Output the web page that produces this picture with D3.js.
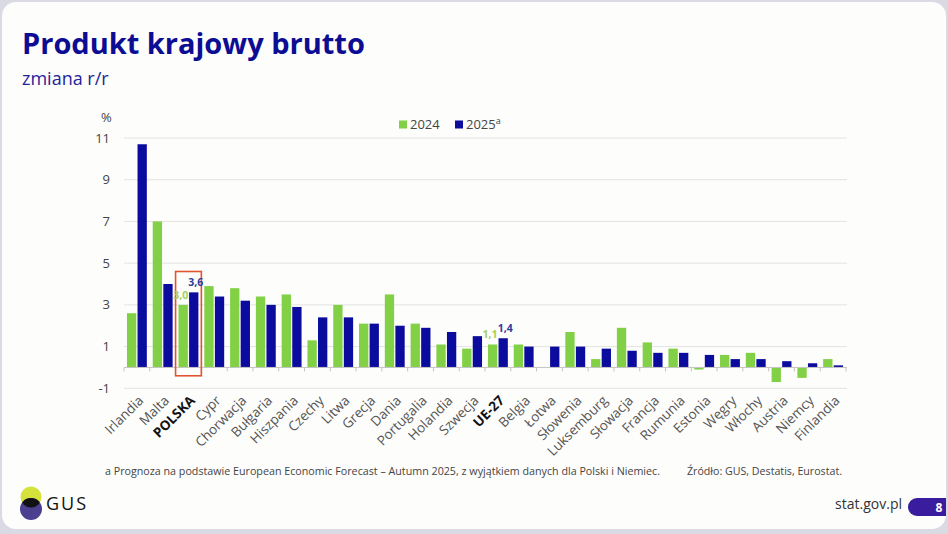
<!DOCTYPE html>
<html>
<head>
<meta charset="utf-8">
<script src="https://cdn.jsdelivr.net/npm/d3@7"></script>
<style>
  html, body { margin: 0; padding: 0; background: #d9dae4; }
  svg { display: block; }
  text { font-family: "Open Sans", "Noto Sans", sans-serif; }
</style>
</head>
<body>
<svg id="canvas" width="948" height="534"></svg>
<script>
"use strict";

const countries = ["Irlandia", "Malta", "POLSKA", "Cypr", "Chorwacja", "Bułgaria", "Hiszpania", "Czechy",
    "Litwa", "Grecja", "Dania", "Portugalia", "Holandia", "Szwecja", "UE-27", "Belgia", "Łotwa", "Słowenia",
    "Luksemburg", "Słowacja", "Francja", "Rumunia", "Estonia", "Węgry", "Włochy", "Austria", "Niemcy", "Finlandia"];
const gdp2024 = [2.6, 7.0, 3.0, 3.9, 3.8, 3.4, 3.5, 1.3, 3.0, 2.1, 3.5, 2.1, 1.1, 0.9, 1.1, 1.1, 0.0, 1.7,
    0.4, 1.9, 1.2, 0.9, -0.1, 0.6, 0.7, -0.7, -0.5, 0.4];
const gdp2025 = [10.7, 4.0, 3.6, 3.4, 3.2, 3.0, 2.9, 2.4, 2.4, 2.1, 2.0, 1.9, 1.7, 1.5, 1.4, 1.0, 1.0, 1.0,
    0.9, 0.8, 0.7, 0.7, 0.6, 0.4, 0.4, 0.3, 0.2, 0.1];
const seriesNames = ["2024", "2025"];
const yTicks = [-1, 1, 3, 5, 7, 9, 11];
const boldCountries = ["POLSKA", "UE-27"];
const labelled = ["POLSKA", "UE-27"];

const colors = { "2024": "#82d046", "2025": "#0b0b9e" };

const svg = d3.select('#canvas');

// white slide panel
svg.append('rect')
    .attr('x', 2).attr('y', 2).attr('width', 944).attr('height', 527)
    .attr('rx', 14).attr('fill', '#fdfdfc');

// title
svg.append('text').attr('x', 22).attr('y', 54)
    .attr('font-size', 29).attr('font-weight', 700).attr('fill', '#0d0d94')
    .text('Produkt krajowy brutto');
svg.append('text').attr('x', 22).attr('y', 85)
    .attr('font-size', 18).attr('fill', '#24249a')
    .text('zmiana r/r');

const x = d3.scaleBand().domain(countries).range([124, 846]).padding(0);
const xSub = d3.scaleBand().domain(seriesNames).range([0, x.bandwidth()])
    .paddingInner(0.12).paddingOuter(0.28);
const y = d3.scaleLinear().domain([-1, 11]).range([388.3, 138]);

// gridlines + y labels
svg.append('g').selectAll('line')
    .data(yTicks)
    .enter()
    .append('line')
    .attr('x1', 124).attr('x2', 847)
    .attr('y1', d => y(d)).attr('y2', d => y(d))
    .attr('stroke', '#e3e3e3').attr('stroke-width', 1);

svg.append('g').selectAll('text')
    .data(yTicks)
    .enter()
    .append('text')
    .attr('x', 110).attr('y', d => y(d))
    .attr('dy', '0.35em').attr('text-anchor', 'end')
    .attr('font-size', 13).attr('fill', '#444')
    .text(d => d);

svg.append('text').attr('x', 101).attr('y', 122)
    .attr('font-size', 13).attr('fill', '#444').text('%');

// bars
const rows = countries.map((c, i) => ({ country: c, values: [gdp2024[i], gdp2025[i]] }));

const groups = svg.append('g').selectAll('g')
    .data(rows)
    .enter()
    .append('g')
    .attr('transform', d => `translate(${x(d.country)},0)`);

groups.selectAll('rect')
    .data(d => d.values.map((v, k) => ({ key: seriesNames[k], value: v })))
    .enter()
    .append('rect')
    .attr('x', d => xSub(d.key))
    .attr('width', xSub.bandwidth())
    .attr('y', d => y(Math.max(0, d.value)))
    .attr('height', d => Math.abs(y(d.value) - y(0)))
    .attr('fill', d => colors[d.key]);

// x axis at zero
const xAxis = svg.append('g').attr('transform', `translate(0,${y(0)})`);
xAxis.append('line').attr('x1', 124).attr('x2', 847).attr('stroke', '#c4c4c4');
xAxis.selectAll('line.tick')
    .data(d3.range(countries.length + 1))
    .enter()
    .append('line')
    .attr('class', 'tick')
    .attr('x1', i => 124 + i * x.step()).attr('x2', i => 124 + i * x.step())
    .attr('y1', 0).attr('y2', 4)
    .attr('stroke', '#c4c4c4');

// category labels
svg.append('g').selectAll('text')
    .data(countries)
    .enter()
    .append('text')
    .attr('transform', d => `translate(${x(d) + x.bandwidth() / 2 + 4},${398}) rotate(-45)`)
    .attr('text-anchor', 'end')
    .attr('dy', '0.35em')
    .attr('font-size', 13.5)
    .attr('font-weight', d => boldCountries.includes(d) ? 700 : 400)
    .attr('fill', d => boldCountries.includes(d) ? '#111' : '#555')
    .text(d => d);

// highlight box for Poland
svg.append('rect')
    .attr('x', x('POLSKA')).attr('width', x.bandwidth())
    .attr('y', y(4.6)).attr('height', y(-0.4) - y(4.6))
    .attr('fill', 'none').attr('stroke', '#e0552c').attr('stroke-width', 1.6);

// value labels
const labelColors = { "2024": "#a2d25a", "2025": "#2d3c9e" };
labelled.forEach(c => {
    let i = countries.indexOf(c);
    [gdp2024[i], gdp2025[i]].forEach((v, k) => {
        let key = seriesNames[k];
        let cx = x(c) + xSub(key) + xSub.bandwidth() / 2;
        svg.append('text')
            .attr('x', k === 0 ? cx + 5 : cx - 5.5)
            .attr('y', y(v) - 6)
            .attr('text-anchor', k === 0 ? 'end' : 'start')
            .attr('font-size', 10.5).attr('font-weight', 700)
            .attr('fill', labelColors[key])
            .text(d3.format('.1f')(v).replace('.', ','));
    });
});

// legend
const legend = svg.append('g');
legend.append('rect').attr('x', 399).attr('y', 120.5).attr('width', 8).attr('height', 8).attr('fill', colors["2024"]);
legend.append('text').attr('x', 410).attr('y', 129).attr('font-size', 13).attr('fill', '#444').text('2024');
legend.append('rect').attr('x', 455).attr('y', 120.5).attr('width', 8).attr('height', 8).attr('fill', colors["2025"]);
const l2 = legend.append('text').attr('x', 466).attr('y', 129).attr('font-size', 13).attr('fill', '#444');
l2.append('tspan').text('2025');
l2.append('tspan').attr('dy', -5).attr('font-size', 9).text('a');

// footnotes
svg.append('text').attr('x', 105).attr('y', 475)
    .attr('font-size', 11).attr('fill', '#444')
    .attr('textLength', 555).attr('lengthAdjust', 'spacingAndGlyphs')
    .text('a Prognoza na podstawie European Economic Forecast – Autumn 2025, z wyjątkiem danych dla Polski i Niemiec.');
svg.append('text').attr('x', 687).attr('y', 475)
    .attr('font-size', 11).attr('fill', '#444')
    .attr('textLength', 155).attr('lengthAdjust', 'spacingAndGlyphs')
    .text('Źródło: GUS, Destatis, Eurostat.');

// GUS logo
const logo = svg.append('g');
const defs = svg.append('defs');
defs.append('clipPath').attr('id', 'clipYellow')
    .append('circle').attr('cx', 31).attr('cy', 497).attr('r', 10.5);
logo.append('circle').attr('cx', 31).attr('cy', 497).attr('r', 10.5).attr('fill', '#d6e23c');
logo.append('circle').attr('cx', 31).attr('cy', 509).attr('r', 11).attr('fill', '#4b3f90');
logo.append('circle').attr('cx', 31).attr('cy', 509).attr('r', 11).attr('fill', '#111')
    .attr('clip-path', 'url(#clipYellow)');
logo.append('text').attr('x', 46).attr('y', 510)
    .attr('font-size', 18).attr('letter-spacing', 2).attr('fill', '#111')
    .text('GUS');

// page footer
svg.append('text').attr('x', 902).attr('y', 509)
    .attr('text-anchor', 'end')
    .attr('font-size', 14).attr('fill', '#333').text('stat.gov.pl');
svg.append('path')
    .attr('d', 'M917,498 L946,498 L946,516 L917,516 A9,9 0 0 1 917,498 Z')
    .attr('fill', '#3a1d9e');
svg.append('text').attr('x', 939).attr('y', 511.5)
    .attr('text-anchor', 'middle').attr('font-size', 12).attr('font-weight', 700)
    .attr('fill', '#fff').text('8');
</script>
</body>
</html>
